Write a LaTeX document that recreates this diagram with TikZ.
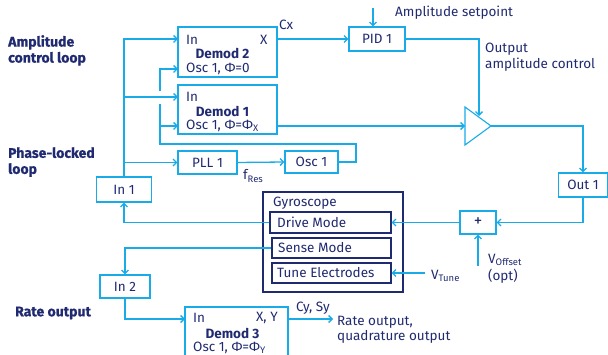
\documentclass[tikz,border=0pt]{standalone}
\usepackage{fontspec}
\setmainfont{Fira Sans}
\newfontfamily\heavyfont{Fira Sans}[BoldFeatures={FakeBold=0.6}]
\usetikzlibrary{arrows.meta}
\definecolor{lblue}{RGB}{25,170,232}
\definecolor{navy}{RGB}{32,42,112}
\begin{document}
\begin{tikzpicture}[x=1pt,y=-1pt,
  font=\fontsize{13.5}{16}\selectfont,
  box/.style={draw=lblue, line width=1.1pt, inner sep=0pt, text=navy},
  gbox/.style={draw=navy, line width=1.1pt, inner sep=0pt},
  wire/.style={lblue, line width=1.3pt},
  arr/.style={wire, -{Straight Barb[length=3.5pt,width=7pt]}},
  txt/.style={text=navy, inner sep=0pt},
  bname/.style={text=navy, inner sep=0pt, font=\fontsize{13.5}{16}\selectfont\bfseries},
  ttl/.style={text=navy, inner sep=0pt, align=left, font=\fontsize{14}{16}\selectfont\heavyfont\bfseries}]
\useasboundingbox (0,0) rectangle (608,355);

% boxes
\node[box, minimum width=99pt, minimum height=50pt] (dem2) at (227.5,52) {};
\node[box, minimum width=99pt, minimum height=49pt] (dem1) at (227.5,109.5) {};
\node[box, minimum width=59pt, minimum height=23pt] (pll) at (207.5,162.5) {PLL 1};
\node[box, minimum width=53pt, minimum height=22pt] (osc) at (311.5,162) {Osc 1};
\node[box, minimum width=56pt, minimum height=24pt] (pid) at (377,39) {PID 1};
\node[box, minimum width=55pt, minimum height=25pt] (in1) at (124,189.5) {In 1};
\node[box, minimum width=50pt, minimum height=23pt] (in2) at (125,286.5) {In 2};
\node[box, minimum width=103pt, minimum height=55pt] (dem3) at (236.5,334.5) {};
\node[box, minimum width=36pt, minimum height=23pt, font=\fontsize{17}{18}\selectfont] (plus) at (478,222.5) {+};
\node[box, minimum width=49pt, minimum height=24pt] (out1) at (583,185) {Out 1};
\node[gbox, minimum width=140pt, minimum height=100pt] (gyro) at (333,242) {};
\node[gbox, minimum width=121pt, minimum height=21pt] (drive) at (330.5,222.5) {};
\node[gbox, minimum width=119pt, minimum height=20pt] (sense) at (331.5,248) {};
\node[gbox, minimum width=119pt, minimum height=20pt] (tune) at (331.5,273) {};

% texts in boxes
\node[txt, anchor=west] (d2in) at (186,40) {In};
\node[txt, anchor=west] (d2x) at (260,40) {X};
\node[bname] (d2n) at (222.5,53) {Demod 2};
\node[txt, anchor=west] (d2os) at (186,69) {Osc 1, Φ=0};
\node[txt, anchor=west] (d1in) at (186,97) {In};
\node[bname] (d1n) at (222.5,111) {Demod 1};
\node[txt, anchor=west] (d1os) at (186,126) {Osc 1, Φ=Φ\textsubscript{X}};
\node[txt, anchor=west] (d3in) at (193,318) {In};
\node[txt, anchor=west] (d3xy) at (256,318) {X, Y};
\node[bname] (d3n) at (232.5,333) {Demod 3};
\node[txt, anchor=west] (d3os) at (193,348) {Osc 1, Φ=Φ\textsubscript{Y}};
\node[txt, anchor=west] (gyt) at (273,203) {Gyroscope};
\node[txt, anchor=west] (drt) at (277,222.5) {Drive Mode};
\node[txt, anchor=west] (set) at (278,248) {Sense Mode};
\node[txt, anchor=west] (tut) at (277,273) {Tune Electrodes};

% free labels
\node[ttl, anchor=north west] (lab1) at (8,35) {Amplitude\\control loop};
\node[ttl, anchor=north west] (lab2) at (8,147) {Phase-locked\\loop};
\node[ttl, anchor=west] (lab3) at (15,313) {Rate output};
\node[txt, anchor=west] (setp) at (395,13) {Amplitude setpoint};
\node[txt, anchor=west, align=left, font=\fontsize{13.5}{16}\selectfont] (oac) at (485,57) {Output\\amplitude control};
\node[txt, anchor=west] (cx) at (279,25) {Cx};
\node[txt, anchor=west] (fres) at (243,176) {f\textsubscript{Res}};
\node[txt, anchor=west] (cysy) at (296,308) {Cy, Sy};
\node[txt, anchor=west, align=left, font=\fontsize{13.5}{15}\selectfont] (rout) at (337,329.5) {Rate output,\\quadrature output};
\node[txt, anchor=west] (vtl) at (431,276) {V\textsubscript{Tune}};
\node[txt, anchor=west, align=left, font=\fontsize{13.5}{17}\selectfont] (vol) at (488,269) {V\textsubscript{Offset}\\(opt)};

% coordinates
\coordinate (d2i) at (178,39);
\coordinate (d2o) at (178,69);
\coordinate (d1i) at (178,97);
\coordinate (d1o) at (178,126);
\coordinate (d3i) at (185,319);
\coordinate (ro) at (333,319);
\coordinate (ampin) at (465,126);
\coordinate (ampout) at (491,126);
\coordinate (amptop) at (479,116);
\coordinate (sp) at (373,8);
\coordinate (voff) at (478,266);
\coordinate (vt) at (425,273);
\coordinate (lp) at (356,144);
\coordinate (lpa) at (160,144);
\coordinate (lpb) at (160,104);
\coordinate (lpc) at (160,91);
\coordinate (lpd) at (160,126);

% amplifier
\draw[box] (465,107) -- (ampout) -- (465,145) -- cycle;

% connectors
\draw[arr] (in1.north) |- (d2i);
\draw[arr] (in1.north |- d1i) -- (d1i);
\draw[arr] (in1.north |- pll.west) -- (pll.west);
\draw[arr] (pll.east) -- (osc.west);
\draw[wire] (osc.east) -| (lp) -- (lpa) -- (lpb);
\draw[arr] (lpc) |- (d2o);
\draw[arr] (lpd) -- (d1o);
\draw[arr] (dem1.east |- d1o) -- (ampin);
\draw[arr] (dem2.east |- d2i) -- (pid.west);
\draw[arr] (sp) -- (sp |- pid.north);
\draw[arr] (pid.east) -| (amptop);
\draw[arr] (ampout) -| (out1.north);
\draw[arr] (out1.south) |- (plus.east);
\draw[arr] (plus.west) -- (drive.east);
\draw[arr] (voff) -- (plus.south);
\draw[arr] (vt) -- (tune.east);
\draw[arr] (drive.west) -| (in1.south);
\draw[arr] (sense.west) -| (in2.north);
\draw[arr] (in2.south) |- (d3i);
\draw[arr] (dem3.east |- d3i) -- (ro);
\end{tikzpicture}
\end{document}
